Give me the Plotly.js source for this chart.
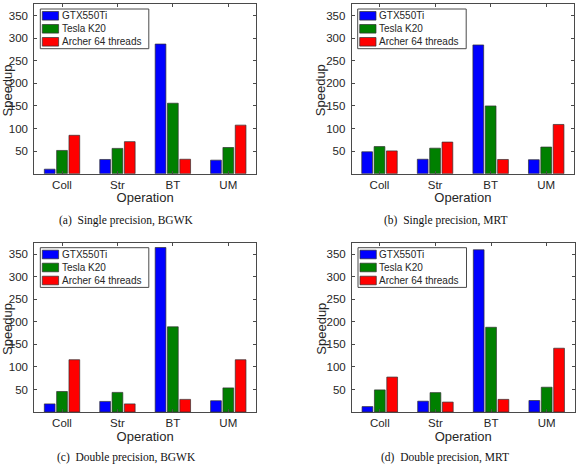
<!DOCTYPE html>
<html><head><meta charset="utf-8">
<script src="https://cdn.plot.ly/plotly-3.0.1.min.js"></script>
<style>html,body{margin:0;padding:0;background:#fff}#chart{width:579px;height:467px}</style>
</head><body><div id="chart"></div>
<script>
const categories = ['Coll', 'Str', 'BT', 'UM'];
const seriesNames = ['GTX550Ti', 'Tesla K20', 'Archer 64 threads'];
const yTicks = [50, 100, 150, 200, 250, 300, 350];
const xTitle = 'Operation';
const yTitle = 'Speedup';
const captions = ['(a)\u2002Single precision, BGWK', '(b)\u2002Single precision, MRT',
                  '(c)\u2002Double precision, BGWK', '(d)\u2002Double precision, MRT'];

// panel (a) single precision BGWK
const spBgwkGTX = [10, 31.5, 287, 30];
const spBgwkK20 = [51.5, 56, 156, 58];
const spBgwkArcher = [85, 71, 32, 107.5];
// panel (b) single precision MRT
const spMrtGTX = [48.5, 32, 285, 31];
const spMrtK20 = [60, 56.5, 150, 59];
const spMrtArcher = [50.5, 70, 31.5, 109];
// panel (c) double precision BGWK
const dpBgwkGTX = [18, 23.5, 365, 25];
const dpBgwkK20 = [45.5, 43.5, 189, 53.5];
const dpBgwkArcher = [116, 18, 28, 116];
// panel (d) double precision MRT
const dpMrtGTX = [12, 24, 360, 25.5];
const dpMrtK20 = [49, 43, 188, 55];
const dpMrtArcher = [77.5, 22, 28, 141.5];

const panels = [
  [spBgwkGTX, spBgwkK20, spBgwkArcher],
  [spMrtGTX, spMrtK20, spMrtArcher],
  [dpBgwkGTX, dpBgwkK20, dpBgwkArcher],
  [dpMrtGTX, dpMrtK20, dpMrtArcher]
];

const W = 579, H = 467;
const colors = ['rgb(0,0,255)', 'rgb(0,128,0)', 'rgb(255,0,0)'];
const fx = p => p / W, fy = p => 1 - p / H;
// pixel boxes of the four axes [left, right, top, bottom]
const boxes = [[34.3, 256, 4.3, 173.7], [351.7, 574, 4.3, 173.7],
               [34.3, 256, 243, 412], [352, 574.5, 243, 412]];
const capY = [220, 220, 457, 457];
const capX = [126, 446, 126, 445];
const yTitleX = [7, 320.7, 7, 320.7];

const axColor = '#4a4a4a';
const textColor = '#262626';
const sans = 'Liberation Sans, Arial, sans-serif';

const traces = [];
const layout = {
  width: W, height: H, margin: {l: 0, r: 0, t: 0, b: 0},
  paper_bgcolor: '#fff', plot_bgcolor: '#fff', showlegend: false,
  barmode: 'group', bargap: 0.333, bargroupgap: 0.13,
  shapes: [], annotations: []
};

panels.forEach((vals, i) => {
  const n = i === 0 ? '' : String(i + 1);
  const xa = 'x' + n, ya = 'y' + n;
  vals.forEach((v, s) => {
    traces.push({type: 'bar', x: categories, y: v, name: seriesNames[s], xaxis: xa, yaxis: ya,
      marker: {color: colors[s], line: {color: '#303030', width: 0.7}}, hoverinfo: 'x+y+name'});
  });
  const b = boxes[i];
  layout['xaxis' + n] = {domain: [fx(b[0]), fx(b[1])], anchor: ya, range: [-0.5, 3.5],
    type: 'category', showline: true, mirror: 'ticks', linecolor: axColor, linewidth: 1,
    ticks: 'inside', ticklen: 3, tickcolor: axColor, showgrid: false, zeroline: false,
    tickfont: {family: sans, size: 11.5, color: textColor},
    title: {text: xTitle, font: {family: sans, size: 13, color: textColor}, standoff: 3}};
  layout['yaxis' + n] = {domain: [fy(b[3]), fy(b[2])], anchor: xa, range: [0, 375],
    showline: true, mirror: 'ticks', linecolor: axColor, linewidth: 1,
    ticks: 'inside', ticklen: 3, tickcolor: axColor, showgrid: false, zeroline: false,
    tickvals: yTicks, ticktext: yTicks.map(String), ticklabelstandoff: 3,
    tickfont: {family: sans, size: 11.5, color: textColor}};

  // y-axis title
  layout.annotations.push({xref: 'paper', yref: 'paper', x: fx(yTitleX[i]), y: fy((b[2] + b[3]) / 2 + 1.5),
    xanchor: 'center', yanchor: 'middle', showarrow: false, textangle: -90, text: yTitle,
    font: {family: sans, size: 13, color: textColor}});

  // caption
  layout.annotations.push({xref: 'paper', yref: 'paper', x: fx(capX[i]), y: fy(capY[i]),
    xanchor: 'center', yanchor: 'middle', showarrow: false, text: captions[i],
    font: {family: 'Liberation Serif, Times New Roman, serif', size: 11.5, color: '#111'}});

  // legend box
  const L = b[0] + 6, T = b[2] + 4.7;
  layout.shapes.push({type: 'rect', xref: 'paper', yref: 'paper', x0: fx(L), x1: fx(L + 108.5),
    y0: fy(T), y1: fy(T + 39.7), line: {color: axColor, width: 1}, fillcolor: '#fff', layer: 'above'});
  seriesNames.forEach((nm, s) => {
    const cy = T + 6.8 + s * 13;
    layout.shapes.push({type: 'rect', xref: 'paper', yref: 'paper', x0: fx(L + 2), x1: fx(L + 18.3),
      y0: fy(cy - 4.3), y1: fy(cy + 4.3), line: {color: '#303030', width: 0.7},
      fillcolor: colors[s], layer: 'above'});
    layout.annotations.push({xref: 'paper', yref: 'paper', x: fx(L + 19.5), y: fy(cy),
      xanchor: 'left', yanchor: 'middle', showarrow: false, text: nm,
      font: {family: sans, size: 10, color: textColor}});
  });
});

Plotly.newPlot('chart', traces, layout, {staticPlot: true});
</script></body></html>
